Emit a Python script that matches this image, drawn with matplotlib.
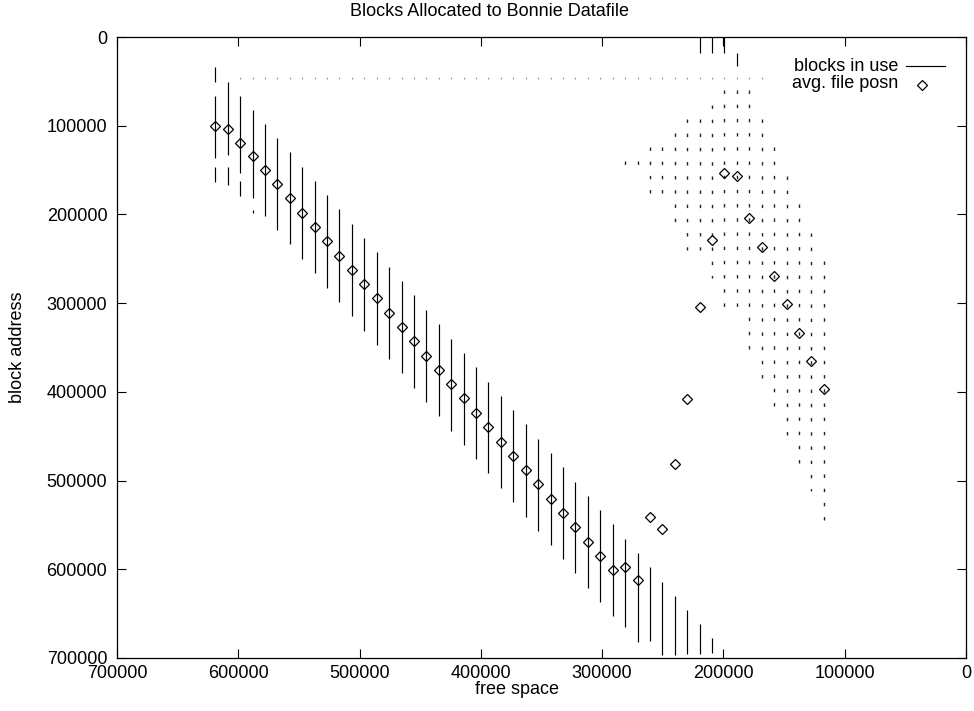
import matplotlib
matplotlib.use("Agg")
import matplotlib.pyplot as plt
from matplotlib.collections import LineCollection
from matplotlib.lines import Line2D

plt.rcParams['font.family'] = ['Liberation Sans', 'DejaVu Sans']
plt.rcParams['lines.scale_dashes'] = False

# ---------------- data ----------------
# free space (x) for each snapshot column
free_space = [619000, 608760, 598520, 588280, 578040, 567800, 557560, 547320, 537080, 526840,
              516600, 506360, 496120, 485880, 475640, 465400, 455160, 444920, 434680, 424440,
              414200, 403960, 393720, 383480, 373240, 363000, 352760, 342520, 332280, 322040,
              311800, 301560, 291320, 281080, 270840, 260600, 250360, 240120, 229880, 219640,
              209400, 199160, 188920, 178680, 168440, 158200, 147960, 137720, 127480, 117240]

# average file position for each column
avg_posn = [100300, 104000, 119100, 134100, 149900, 165700, 181800, 198000, 213800, 230000,
            246500, 262600, 278800, 294500, 310800, 326600, 342700, 359200, 375400, 391500,
            407300, 423500, 439600, 456200, 471900, 488100, 504200, 520400, 536900, 552700,
            568900, 585000, 600800, 597100, 612100, 541400, 554600, 481300, 408100, 304300,
            228800, 153000, 156300, 204400, 236400, 269100, 301000, 333300, 365200, 397100]

# contiguous runs of blocks in use: (column index, first block, last block)
runs_solid = [
    (0, 33500, 50400), (0, 66200, 136000), (0, 146200, 163100),
    (1, 50400, 133000), (1, 146200, 167300),
    (2, 66200, 153000), (2, 162300, 178900),
    (3, 82300, 181800), (3, 195000, 198700),
    (4, 98100, 201800), (5, 114200, 217500), (6, 130000, 233700), (7, 146200, 250200),
    (8, 162300, 266400), (9, 178400, 282600), (10, 194200, 298400), (11, 210800, 314500),
    (12, 226900, 331100), (13, 242700, 347200), (14, 258900, 363300), (15, 275000, 379100),
    (16, 291200, 395300), (17, 307700, 411100), (18, 323500, 427200), (19, 340400, 443800),
    (20, 356500, 459900), (21, 372300, 476000), (22, 388500, 491800), (23, 404300, 508000),
    (24, 420800, 524500), (25, 436600, 540700), (26, 452800, 556500), (27, 469300, 572600),
    (28, 485000, 588700), (29, 501300, 604500), (30, 517400, 620700), (31, 533500, 636900),
    (32, 549300, 653000), (33, 565900, 665400), (34, 581600, 681600), (35, 597800, 680800),
    (36, 614000, 697000), (37, 629800, 697000), (38, 645900, 695800), (39, 662000, 695500),
    (40, 677800, 694700),
    (39, 0, 17700), (40, 0, 17700), (41, 0, 17700), (42, 17700, 32300),
]

# scattered single blocks, one every row: (column index, first row block, last row block)
runs_scattered = [
    (33, 142200, 142200), (34, 142200, 142200), (35, 126200, 174200), (36, 126200, 174200),
    (37, 110200, 206300), (38, 94200, 238300), (39, 94200, 238300), (40, 78200, 270300),
    (41, 62200, 302300), (42, 62200, 302300), (43, 62200, 350300), (44, 94200, 382300),
    (45, 126200, 414300), (46, 158200, 446300), (47, 190300, 478400), (48, 222300, 510400),
    (49, 254300, 542400),
]
row_step = 16006          # block spacing of the scattered rows

# one isolated block present in most columns
stray_block = 46200
stray_cols = (2, 44)

axis_ticks = [0, 100000, 200000, 300000, 400000, 500000, 600000, 700000]
axis_labels = ['0', '100000', '200000', '300000', '400000', '500000', '600000', '700000']

title = 'Blocks Allocated to Bonnie Datafile'
xlabel = 'free space'
ylabel = 'block address'
legend_labels = ['blocks in use', 'avg. file posn']

# ---------------- figure ----------------
W, H, DPI = 974, 711, 100
fig = plt.figure(figsize=(W / DPI, H / DPI), dpi=DPI)
L, R, T, B = 117, 966, 37, 658
ax = fig.add_axes([L / W, (H - B) / H, (R - L) / W, (B - T) / H])
ax.set_xlim(700000, 0)
ax.set_ylim(700000, 0)

FS = 13
lw = 0.85

# solid runs
segs = [[(free_space[c], a), (free_space[c], b)] for c, a, b in runs_solid]
ax.add_collection(LineCollection(segs, colors='black', linewidths=lw))

# dashed (scattered) runs: dash pattern derived from the row spacing
px_per_unit = (B - T) / 700000
spacing_pt = row_step * px_per_unit * 72 / DPI
dash_px = 3.4
dash_pt = dash_px * 72 / DPI
half = dash_px / 2 / px_per_unit
segs = [[(free_space[c], a - half), (free_space[c], b + half)] for c, a, b in runs_scattered]
ax.add_collection(LineCollection(segs, colors='#222222', linewidths=1.0,
                                 linestyles=[(0, (dash_pt, spacing_pt - dash_pt))]))

# stray blocks (tiny faint marks)
segs = [[(free_space[c], stray_block - 700), (free_space[c], stray_block + 700)]
        for c in range(stray_cols[0], stray_cols[1] + 1)]
ax.add_collection(LineCollection(segs, colors='#9a9a9a', linewidths=0.9))

# average file position
ax.plot(free_space, avg_posn, linestyle='none', marker='D', markersize=4.9,
        markerfacecolor='none', markeredgecolor='black', markeredgewidth=0.9)

# axes styling
for s in ax.spines.values():
    s.set_linewidth(0.9)
ax.set_xticks(axis_ticks)
ax.set_xticklabels(axis_labels)
ax.set_yticks(axis_ticks)
ax.set_yticklabels(axis_labels)
ax.tick_params(direction='in', top=True, right=True, length=6.3, width=0.8,
               labelsize=FS, colors='black')
ax.tick_params(axis='x', pad=5)
ax.tick_params(axis='y', pad=7)

fig.text(489 / W, 1 - 12 / H, title, ha='center', va='center', fontsize=FS)
fig.text(517 / W, 1 - 690 / H, xlabel, ha='center', va='center', fontsize=FS)
fig.text(18 / W, 1 - 347 / H, ylabel, ha='center', va='center', rotation=90, fontsize=FS)

# legend (right-aligned text, sample to the right)
to_axes = ax.transAxes.inverted()
def fig_px(x, y):
    return to_axes.transform((x, H - y))

tx, ty = fig_px(898, 66.5)
ax.text(tx, ty, legend_labels[0], transform=ax.transAxes, ha='right', va='center', fontsize=FS)
tx, ty = fig_px(898, 84)
ax.text(tx, ty, legend_labels[1], transform=ax.transAxes, ha='right', va='center', fontsize=FS)
x0, y0 = fig_px(906, 65.5)
x1, _ = fig_px(945, 65.5)
ax.add_line(Line2D([x0, x1], [y0, y0], transform=ax.transAxes, color='black', linewidth=lw))
xd, yd = fig_px(922, 84.5)
ax.add_line(Line2D([xd], [yd], transform=ax.transAxes, linestyle='none', marker='D',
                   markersize=4.9, markerfacecolor='none', markeredgecolor='black',
                   markeredgewidth=0.9))

fig.savefig('out.png', dpi=DPI)
